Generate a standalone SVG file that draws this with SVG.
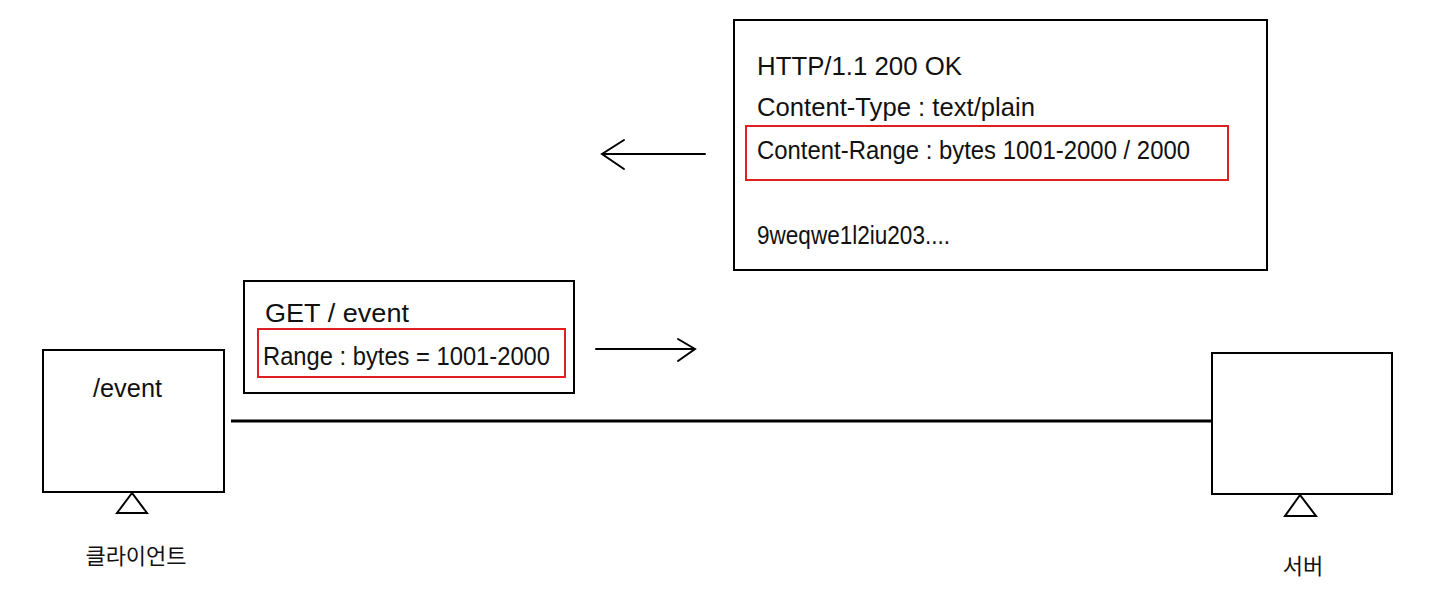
<svg xmlns="http://www.w3.org/2000/svg" width="1440" height="598" viewBox="0 0 1440 598">
<style>
.box{fill:#fff;stroke:#000;stroke-width:2}
.hl{fill:none;stroke:#e02020;stroke-width:2}
.t{font-family:"Liberation Sans","Noto Sans CJK KR",sans-serif;font-size:26px;fill:#111}
.k{font-family:"Noto Sans CJK KR",sans-serif;font-size:22px;fill:#111}
.ln{stroke:#000;stroke-width:2;fill:none;stroke-linecap:round}
</style>
<rect width="1440" height="598" fill="#fff"/>
<g id="client">
<rect class="box" x="43" y="350" width="181" height="142"/>
<text class="t" x="93" y="397" textLength="69" lengthAdjust="spacingAndGlyphs">/event</text>
<polygon class="box" points="132,493 117,513 147,513"/>
<text class="k" x="136" y="564" text-anchor="middle">클라이언트</text>
</g>
<g id="server">
<rect class="box" x="1212" y="353" width="180" height="141"/>
<polygon class="box" points="1300,495 1285,516 1316,516"/>
<text class="k" x="1303" y="574" text-anchor="middle">서버</text>
</g>
<g id="request">
<rect class="box" x="244" y="281" width="330" height="112"/>
<text class="t" x="265" y="322" textLength="144" lengthAdjust="spacingAndGlyphs">GET / event</text>
<rect class="hl" x="258" y="329" width="307" height="48"/>
<text class="t" x="263" y="365" textLength="287" lengthAdjust="spacingAndGlyphs">Range : bytes = 1001-2000</text>
</g>
<g id="response">
<rect class="box" x="734" y="20" width="533" height="250"/>
<text class="t" x="757" y="75" textLength="205" lengthAdjust="spacingAndGlyphs">HTTP/1.1 200 OK</text>
<text class="t" x="757" y="116" textLength="278" lengthAdjust="spacingAndGlyphs">Content-Type : text/plain</text>
<rect class="hl" x="746" y="126" width="482" height="54"/>
<text class="t" x="757" y="159" textLength="433" lengthAdjust="spacingAndGlyphs">Content-Range : bytes 1001-2000 / 2000</text>
<text class="t" x="757" y="244" textLength="193" lengthAdjust="spacingAndGlyphs">9weqwe1l2iu203....</text>
</g>
<g id="connectors">
<line x1="231" y1="421" x2="1212" y2="421" stroke="#000" stroke-width="3"/>
<path class="ln" d="M596,349 H695 M678,339 L695,349 L678,361"/>
<path class="ln" d="M705,154 H602 M624,140 L602,154 L624,169"/>
</g>
</svg>
